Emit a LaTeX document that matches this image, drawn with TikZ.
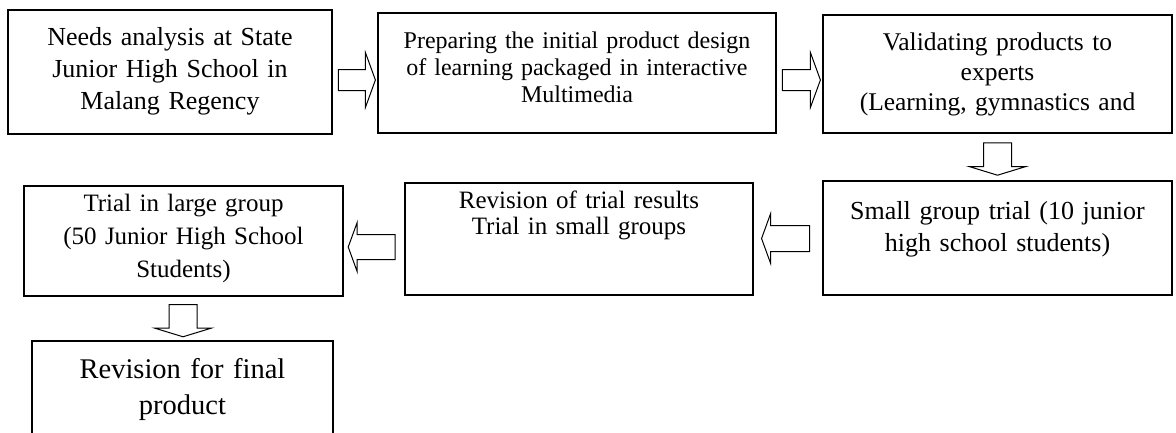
\documentclass[tikz,border=0pt]{standalone}
\usepackage{fontspec}
\setmainfont{Liberation Serif}
\usepackage{tikz}
\usetikzlibrary{shapes.arrows}
\tikzstyle{stage} = [rectangle, draw=black, line width=1.3pt, inner sep=0pt, align=center, text height=0pt]
\tikzstyle{blockarrow} = [single arrow, draw=black, line width=1pt, fill=white, single arrow tip angle=140]
\tikzstyle{rarrow} = [blockarrow, inner sep=10pt, minimum height=37pt, single arrow head extend=17pt]
\tikzstyle{larrow} = [blockarrow, shape border rotate=180, inner sep=12.5pt, minimum height=48pt, single arrow head extend=12pt]
\tikzstyle{darrow} = [blockarrow, shape border rotate=270, inner sep=13.5pt, minimum height=30pt, single arrow head extend=14pt, single arrow tip angle=146]

\begin{document}
\begin{tikzpicture}[x=1pt, y=-1pt]
  \clip (0,0) rectangle (1176,432);
  \node (needs) [stage, minimum width=324pt, minimum height=124pt, text width=314pt, text depth=54pt, font=\fontsize{26}{32}\selectfont] at (170,72) {Needs analysis at State\\Junior High School in\\Malang Regency};
  \node (design) [stage, minimum width=398pt, minimum height=120pt, text width=388pt, text depth=50pt, font=\fontsize{24}{27}\selectfont] at (577,73) {Preparing the initial product design\\of learning packaged in interactive\\Multimedia};
  \node (validate) [stage, minimum width=349pt, minimum height=118pt, text width=339pt, text depth=48pt, font=\fontsize{25.5}{30}\selectfont] at (997.5,74) {Validating products to\\experts\\(Learning, gymnastics and};
  \node (small) [stage, line width=1.6pt, minimum width=349pt, minimum height=114pt, text width=339pt, text depth=38pt, font=\fontsize{26}{32}\selectfont] at (997.5,238) {Small group trial (10 junior\\high school students)};
  \node (revise) [stage, minimum width=348pt, minimum height=112pt, text width=338pt, text depth=62pt, font=\fontsize{25}{26}\selectfont] at (579,239) {Revision of trial results\\Trial in small groups};
  \node (large) [stage, minimum width=319pt, minimum height=110pt, text width=309pt, text depth=60pt, font=\fontsize{25}{33}\selectfont] at (183.5,241) {Trial in large group\\(50 Junior High School\\Students)};
  \node (final) [stage, minimum width=301pt, minimum height=120pt, text width=291pt, text depth=46pt, font=\fontsize{28.5}{36}\selectfont] at (182.5,401) {Revision for final\\product};

  \path (needs.east) -- node[rarrow, yshift=-7.5pt] {} (design.west);
  \path (design.east) -- node[rarrow, yshift=-6.5pt, minimum height=38pt] {} (validate.west);
  \path (validate.south) -- node[darrow] {} (small.north);
  \path (small.west) -- node[larrow] {} (revise.east);
  \path (revise.west) -- node[larrow, yshift=-7pt, minimum height=47pt, inner sep=12pt] {} (large.east);
  \path (large.south) -- node[darrow] {} (final.north);
\end{tikzpicture}
\end{document}
